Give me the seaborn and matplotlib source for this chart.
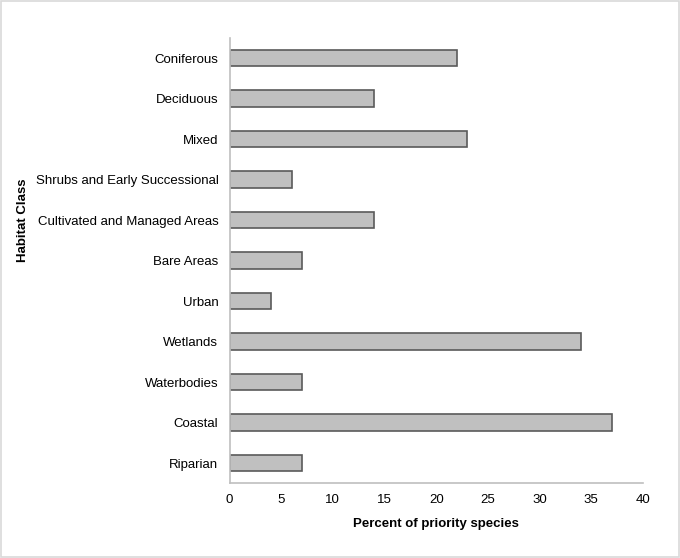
import matplotlib
matplotlib.use('Agg')
import matplotlib.pyplot as plt
import pandas as pd
import seaborn as sns

habitat_classes = ['Coniferous', 'Deciduous', 'Mixed', 'Shrubs and Early Successional',
                   'Cultivated and Managed Areas', 'Bare Areas', 'Urban', 'Wetlands',
                   'Waterbodies', 'Coastal', 'Riparian']
percent_priority = [22, 14, 23, 6, 14, 7, 4, 34, 7, 37, 7]
x_ticks = [0, 5, 10, 15, 20, 25, 30, 35, 40]

df = pd.DataFrame({'Habitat Class': habitat_classes, 'Percent': percent_priority})

sns.set_style('white')
plt.rcParams['font.family'] = ['Liberation Sans', 'DejaVu Sans']
plt.rcParams['text.color'] = 'black'
plt.rcParams['xtick.color'] = 'black'
plt.rcParams['ytick.color'] = 'black'
plt.rcParams['axes.labelcolor'] = 'black'

fig = plt.figure(figsize=(6.8, 5.58), dpi=100)
ax = fig.add_axes([229.5 / 680, (558 - 483.3) / 558, (643 - 229.5) / 680, (483.3 - 37.8) / 558])

sns.barplot(data=df, x='Percent', y='Habitat Class', order=habitat_classes, color='#c0c0c0',
            edgecolor='#5a5a5a', linewidth=1.2, width=0.4, saturation=1, ax=ax)

ax.set_xlim(0, 40)
ax.set_xticks(x_ticks)
ax.set_xticklabels([str(t) for t in x_ticks], fontsize=9.5)
ax.tick_params(axis='y', labelsize=9.5, length=0, pad=8)
ax.tick_params(axis='x', length=0, pad=8)
ax.set_xlabel('Percent of priority species', fontsize=9.5, fontweight='bold', labelpad=8)
ax.set_ylabel('Habitat Class', fontsize=9.5, fontweight='bold')
ax.yaxis.set_label_coords(-0.484, 0.59)

for side in ['top', 'right']:
    ax.spines[side].set_visible(False)
for side in ['left', 'bottom']:
    ax.spines[side].set_color('#bfbfbf')
    ax.spines[side].set_linewidth(1.2)

# light frame round the whole figure
fig.patches.append(plt.Rectangle((0.002, 0.002), 0.996, 0.996, transform=fig.transFigure,
                                 fill=False, edgecolor='#d9d9d9', linewidth=1.2))

fig.savefig('out.png', dpi=100)
